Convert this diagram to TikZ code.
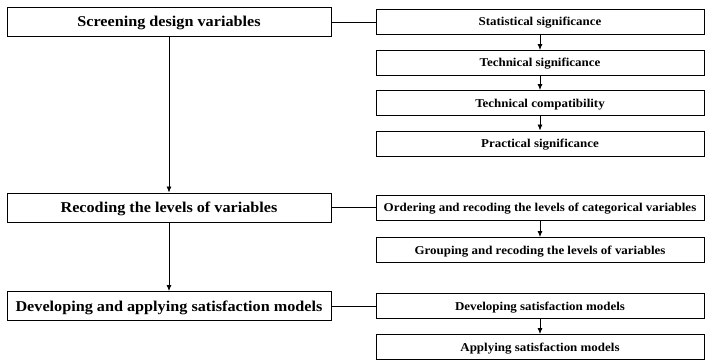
\documentclass[tikz,border=0pt]{standalone}
\usepackage{fontspec}
\setmainfont{Liberation Serif}
\newfontfamily\widefont{Liberation Serif}[FakeStretch=1.08]
\usetikzlibrary{arrows.meta}
\begin{document}
\begin{tikzpicture}[x=1pt,y=-1pt,
  mainbox/.style={draw=black,line width=0.9pt,minimum width=324pt,minimum height=29pt,inner sep=0pt,text height=10pt,text depth=0pt,font=\widefont\fontsize{15}{17}\selectfont\bfseries},
  subbox/.style={draw=black,line width=0.9pt,minimum width=328pt,minimum height=25pt,inner sep=0pt,text height=8pt,text depth=0pt,font=\widefont\fontsize{12}{14}\selectfont\bfseries},
  link/.style={line width=0.6pt},
  flow/.style={line width=0.8pt,-{Latex[length=6pt,width=5pt]}}]
\useasboundingbox (0,0) rectangle (705,361);
\node[mainbox] (m1) at (169,22) {Screening design variables};
\node[mainbox] (m2) at (169,207.5) {Recoding the levels of variables};
\node[mainbox] (m3) at (169,306) {Developing and applying satisfaction models};
\node[subbox] (s1) at (540,22) {Statistical significance};
\node[subbox] (s2) at (540,63) {Technical significance};
\node[subbox] (s3) at (540,103) {Technical compatibility};
\node[subbox] (s4) at (540,143.5) {Practical significance};
\node[subbox] (r1) at (540,207.5) {Ordering and recoding the levels of categorical variables};
\node[subbox] (r2) at (540,250) {Grouping and recoding the levels of variables};
\node[subbox] (d1) at (540,306) {Developing satisfaction models};
\node[subbox] (d2) at (540,347) {Applying satisfaction models};
\draw[link] (m1.east) -- (s1.west);
\draw[link] (m2.east) -- (r1.west);
\draw[link] (m3.east) -- (d1.west);
\draw[flow] (m1) -- (m2);
\draw[flow] (m2) -- (m3);
\draw[flow] (s1) -- (s2);
\draw[flow] (s2) -- (s3);
\draw[flow] (s3) -- (s4);
\draw[flow] (r1) -- (r2);
\draw[flow] (d1) -- (d2);
\end{tikzpicture}
\end{document}
